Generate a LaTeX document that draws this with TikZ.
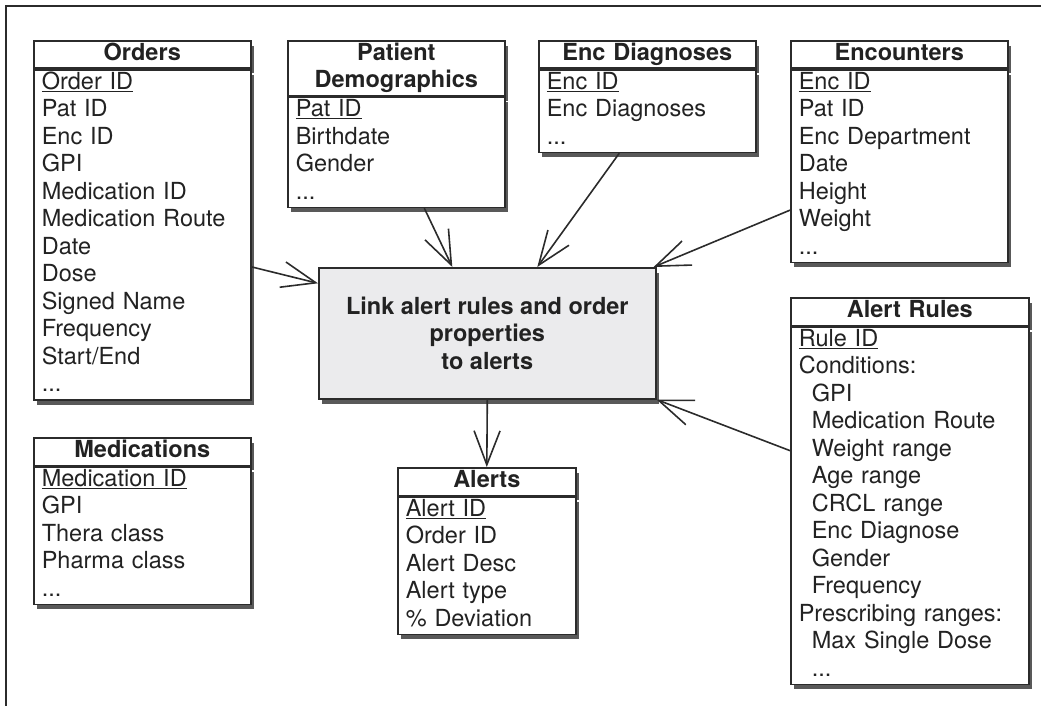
\documentclass[tikz,border=0pt]{standalone}
\usepackage{fontspec}
\setmainfont{TeX Gyre Heros}
\usetikzlibrary{positioning, arrows.meta, shadows}

\definecolor{linegray}{HTML}{2B2B2B}
\definecolor{textgray}{HTML}{222222}
\definecolor{linkfill}{HTML}{EBEBED}
\newcommand{\tblfont}{\fontsize{23.5pt}{27.5pt}\selectfont}
\newcommand{\ind}{\hspace*{13pt}}

\tikzset{
  boxshadow/.style={drop shadow={shadow xshift=3pt, shadow yshift=-5pt, fill=black, opacity=0.65}},
  tblhead/.style={draw=linegray, line width=1.6pt, fill=white, text=textgray,
    font=\tblfont\bfseries, text width=#1, align=center, inner xsep=0pt, inner ysep=0pt,
    execute at begin node=\strut, execute at end node=\strut, boxshadow},
  tblhead/.default=217pt,
  tblbody/.style={draw=linegray, line width=1.6pt, fill=white, text=textgray,
    font=\tblfont, text width=#1, align=left, inner xsep=8pt, inner ysep=0pt,
    execute at begin node=\strut, execute at end node=\strut, boxshadow},
  tblbody/.default=201pt,
  arr/.style={draw=linegray, line width=1.6pt, -{Straight Barb[length=34pt, width=26pt]}}
}

\begin{document}
\begin{tikzpicture}[x=1pt, y=1pt, node distance=36pt]
  \useasboundingbox (0,0) rectangle (1041,-706);
  \draw[linegray, line width=1.2pt] (6,-706) -- (6,-6) -- (1041,-6);

  % top row of tables
  \node[tblhead, anchor=north west] (orders) at (33,-40) {Orders};
  \node[tblbody, below=0pt of orders] (orders-body) {\underline{Order ID}\\ Pat ID\\ Enc ID\\ GPI\\
    Medication ID\\ Medication Route\\ Date\\ Dose\\ Signed Name\\ Frequency\\ Start/End\\ ...};

  \node[tblhead, anchor=north west] (pd) at (287,-40) {Patient\\ Demographics};
  \node[tblbody, below=0pt of pd] (pd-body) {\underline{Pat ID}\\ Birthdate\\ Gender\\ ...};

  \node[tblhead, anchor=north west] (ed) at (538,-40) {Enc Diagnoses};
  \node[tblbody, below=0pt of ed] (ed-body) {\underline{Enc ID}\\ Enc Diagnoses\\ ...};

  \node[tblhead, anchor=north west] (enc) at (790,-40) {Encounters};
  \node[tblbody, below=0pt of enc] (enc-body) {\underline{Enc ID}\\ Pat ID\\ Enc Department\\ Date\\
    Height\\ Weight\\ ...};

  % central step
  \node[draw=linegray, line width=1.6pt, fill=linkfill, text=textgray, font=\tblfont\bfseries,
    align=center, minimum width=337pt, minimum height=131pt, anchor=north west, boxshadow]
    (link) at (318,-267) {Link alert rules and order\\ properties\\ to alerts};

  % lower tables
  \node[tblhead=238pt, anchor=north west] (rules) at (790,-297) {Alert Rules};
  \node[tblbody=222pt, below=0pt of rules] (rules-body) {\underline{Rule ID}\\ Conditions:\\
    \ind GPI\\ \ind Medication Route\\ \ind Weight range\\ \ind Age range\\ \ind CRCL range\\
    \ind Enc Diagnose\\ \ind Gender\\ \ind Frequency\\ Prescribing ranges:\\
    \ind Max Single Dose\\ \ind ...};

  \node[tblhead, anchor=north west] (meds) at (33,-437) {Medications};
  \node[tblbody, below=0pt of meds] (meds-body) {\underline{Medication ID}\\ GPI\\ Thera class\\
    Pharma class\\ ...};

  \node[tblhead=178pt, anchor=north west] (alerts) at (397,-467) {Alerts};
  \node[tblbody=162pt, below=0pt of alerts] (alerts-body) {\underline{Alert ID}\\ Order ID\\
    Alert Desc\\ Alert type\\ \% Deviation};

  % arrows
  \draw[arr] ([yshift=-32pt]orders-body.east) -- ([yshift=50pt]link.west);
  \draw[arr] ([xshift=28pt]pd-body.south) -- ([xshift=-35pt]link.north);
  \draw[arr] ([xshift=-28pt]ed-body.south) -- ([xshift=50pt]link.north);
  \draw[arr] ([yshift=-44pt]enc-body.west) -- ([xshift=-3pt]link.north east);
  \draw[arr] ([yshift=55pt]rules-body.west) -- (link.south east);
  \draw[arr] (link.south) -- (alerts.north);
\end{tikzpicture}
\end{document}
